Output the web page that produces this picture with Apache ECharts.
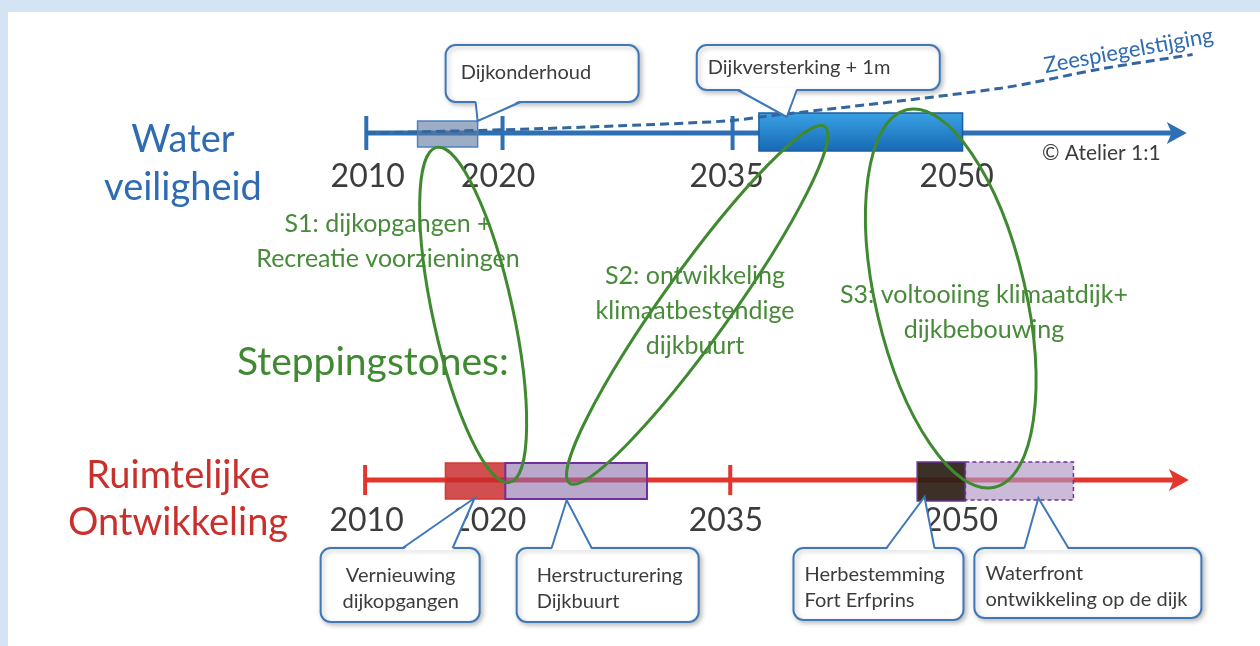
<!DOCTYPE html>
<html>
<head>
<meta charset="utf-8">
<script src="https://cdn.jsdelivr.net/npm/echarts@6/dist/echarts.min.js"></script>
<style>
  html, body { margin: 0; padding: 0; background: #d5e4f3; }
  #chart { width: 1260px; height: 646px; }
</style>
</head>
<body>
<div id="chart"></div>
<script>
const FONT = 'Lato, "Noto Sans", sans-serif';

// Water veiligheid lane
const waterSpan = [2010, 2066];
const waterTicks = [2010, 2019.3, 2035];
const waterYearLabels = ['2010', '2020', '2035', '2050'];
const waterLabelYears = [2010.1, 2019.0, 2034.6, 2050.3];
const waterBlocks = [[2013.5, 2017.6], [2036.8, 2050.7]];
const waterNotes = ['Dijkonderhoud', 'Dijkversterking + 1m'];
const waterNoteYears = [2017.6, 2038.7];

// Zeespiegelstijging (rise above the lane, m)
const seaYears = [2010, 2019.3, 2027.3, 2034.6, 2036.9, 2053.3, 2060.1, 2066.4];
const seaRise = [0, 0.04, 0.09, 0.15, 0.2, 0.56, 0.8, 0.98];

// Ruimtelijke Ontwikkeling lane
const ruimteSpan = [2010, 2066.4];
const ruimteTicks = [2010, 2035];
const ruimteYearLabels = ['2010', '2020', '2035', '2050'];
const ruimteLabelYears = [2010.1, 2018.5, 2034.7, 2050.8];
const ruimteBlocks = [[2015.5, 2019.6], [2019.6, 2029.3], [2047.8, 2051.1], [2051.1, 2058.5]];
const ruimteNotes = ['Vernieuwing\ndijkopgangen', 'Herstructurering\nDijkbuurt', 'Herbestemming\nFort Erfprins', 'Waterfront\nontwikkeling op de dijk'];
const ruimteNoteYears = [2017.5, 2023.8, 2048.3, 2056.1];

// stepping stones: ellipse from a point on the water lane to one on the ruimte lane
const stepLabels = ['S1: dijkopgangen +\nRecreatie voorzieningen', 'S2: ontwikkeling\nklimaatbestendige\ndijkbuurt', 'S3: voltooiing klimaatdijk+\ndijkbebouwing'];
const stepTop = [[2014.8, -0.18], [2041.3, 0.08], [2046.9, 0.29]];
const stepBottom = [[2019.9, -0.03], [2024.0, -0.04], [2053.1, -0.09]];

// ---- styles / layout ----
const BLUE = '#2e70b4', RED = '#e2352e', GREEN = '#3f8a30', GREY = '#3c3c3c', NOTE = '#3f78b8';
const waterBlockStyle = [
  { top: -12, bottom: 14, fill: 'rgba(90,118,158,0.6)', stroke: '#4f81bd', lineWidth: 1.5 },
  { top: -20, bottom: 18, fill: { type: 'linear', x: 0, y: 0, x2: 0, y2: 1, colorStops: [{ offset: 0, color: '#3aa2e4' }, { offset: 1, color: '#1769b4' }] }, stroke: '#1b5e9e', lineWidth: 1.5 }
];
const ruimteBlockStyle = [
  { top: -17, bottom: 19, fill: 'rgba(200,40,40,0.82)', stroke: '#d8382f', lineWidth: 1.5 },
  { top: -17, bottom: 19, fill: 'rgba(140,110,170,0.6)', stroke: '#7030a0', lineWidth: 2 },
  { top: -18, bottom: 21, fill: 'rgba(45,30,22,0.92)', stroke: '#6a3590', lineWidth: 1.5 },
  { top: -18, bottom: 20, fill: 'rgba(175,150,195,0.65)', stroke: '#7030a0', lineWidth: 1.5, lineDash: [4, 3] }
];
const waterNoteLayout = [
  { tip: [0, -12], box: [-32, 161, -88, -31], base: [-2, 43], text: [-17, -60], align: 'left' },
  { tip: [0, -16], box: [-90, 153, -88, -43], base: [-49, 10], text: [-79, -65], align: 'left' }
];
const ruimteNoteLayout = [
  { tip: [0, 18], box: [-154, 5, 68, 142], base: [-72, -22], text: [-74, 109], align: 'center' },
  { tip: [0, 20], box: [-50, 132, 68, 142], base: [-15, 25], text: [-30, 109], align: 'left' },
  { tip: [0, 17], box: [-131, 39, 68, 140], base: [-38, 10], text: [-120, 108], align: 'left' },
  { tip: [0, 18], box: [-64, 163, 68, 138], base: [-14, 30], text: [-53, 107], align: 'left' }
];
const stepHalfWidth = [40, 34, 75];
const stepLabelPos = [[388, 241], [695, 311], [984, 312]];

function arrowItem(color, width) {
  return function (params, api) {
    const a = api.coord([api.value(0), 0]);
    const b = api.coord([api.value(1), 0]);
    return {
      type: 'group', children: [
        { type: 'line', shape: { x1: a[0], y1: a[1], x2: b[0] - 14, y2: b[1] }, style: { stroke: color, lineWidth: width } },
        { type: 'polygon', shape: { points: [[b[0] - 20, b[1] - 11], [b[0], b[1]], [b[0] - 20, b[1] + 11], [b[0] - 15, b[1]]] }, style: { fill: color } }
      ]
    };
  };
}
function tickItem(color, half) {
  return function (params, api) {
    const c = api.coord([api.value(0), 0]);
    return { type: 'line', shape: { x1: c[0], y1: c[1] - half, x2: c[0], y2: c[1] + half }, style: { stroke: color, lineWidth: 4 } };
  };
}
function blockItem(styles) {
  return function (params, api) {
    const s = styles[params.dataIndex];
    const a = api.coord([api.value(0), 0]);
    const b = api.coord([api.value(1), 0]);
    return {
      type: 'rect',
      shape: { x: a[0], y: a[1] + s.top, width: b[0] - a[0], height: s.bottom - s.top },
      style: { fill: s.fill, stroke: s.stroke, lineWidth: s.lineWidth, lineDash: s.lineDash || null }
    };
  };
}
function yearItem(labels, dy) {
  return function (params, api) {
    const c = api.coord([api.value(0), 0]);
    return { type: 'text', x: c[0], y: c[1] + dy, style: { text: labels[params.dataIndex], font: '32px ' + FONT, fill: GREY, align: 'center', verticalAlign: 'middle' } };
  };
}

function laneSeries(idx, span, ticks, blocks, blockStyle, labelYears, labels, color, tickHalf, labelDy) {
  return [
    { type: 'custom', xAxisIndex: idx, yAxisIndex: idx, silent: true, z: 2, data: [span], renderItem: arrowItem(color, 5) },
    { type: 'custom', xAxisIndex: idx, yAxisIndex: idx, silent: true, z: 2, data: ticks.map(t => [t, 0]), renderItem: tickItem(color, tickHalf) },
    { type: 'custom', xAxisIndex: idx, yAxisIndex: idx, silent: true, z: 3, data: blocks, renderItem: blockItem(blockStyle) },
    { type: 'custom', xAxisIndex: idx, yAxisIndex: idx, silent: true, z: 3, data: labelYears.map(t => [t, 0]), renderItem: yearItem(labels, labelDy) }
  ];
}

const chart = echarts.init(document.getElementById('chart'));
chart.setOption({
  backgroundColor: '#d5e4f3',
  animation: false,
  grid: [
    { left: 0, right: 0, top: 53, height: 160 },
    { left: -4, right: 4, top: 400, height: 160 }
  ],
  xAxis: [
    { gridIndex: 0, type: 'value', min: 1985, max: 2071, show: false },
    { gridIndex: 1, type: 'value', min: 1985, max: 2071, show: false }
  ],
  yAxis: [
    { gridIndex: 0, type: 'value', min: -1, max: 1, show: false },
    { gridIndex: 1, type: 'value', min: -1, max: 1, show: false }
  ],
  series: [
    ...laneSeries(0, waterSpan, waterTicks, waterBlocks, waterBlockStyle, waterLabelYears, waterYearLabels, BLUE, 17, 44),
    ...laneSeries(1, ruimteSpan, ruimteTicks, ruimteBlocks, ruimteBlockStyle, ruimteLabelYears, ruimteYearLabels, RED, 15, 41),
    {
      type: 'line', xAxisIndex: 0, yAxisIndex: 0, silent: true, z: 5,
      data: seaYears.map((y, i) => [y, seaRise[i]]),
      smooth: 0.3, symbol: 'none',
      lineStyle: { color: '#33669f', width: 3, type: [9, 5] }
    }
  ]
});

function callout(p, L, text) {
  const x0 = p[0] + L.box[0], x1 = p[0] + L.box[1], y0 = p[1] + L.box[2], y1 = p[1] + L.box[3];
  const tip = [p[0] + L.tip[0], p[1] + L.tip[1]];
  const edge = tip[1] < y0 ? y0 : y1;
  const inward = tip[1] < y0 ? 2 : -2;
  const b0 = [p[0] + L.base[0], edge], b1 = [p[0] + L.base[1], edge];
  return [
    { type: 'rect', z: 20, shape: { x: x0, y: y0, width: x1 - x0, height: y1 - y0, r: 10 },
      style: { fill: '#fff', stroke: NOTE, lineWidth: 2, shadowBlur: 5, shadowOffsetX: 2, shadowOffsetY: 2, shadowColor: 'rgba(0,0,0,0.25)' } },
    { type: 'polygon', z: 21, shape: { points: [[b0[0], edge + inward], tip, [b1[0], edge + inward]] }, style: { fill: '#fff' } },
    { type: 'polyline', z: 22, shape: { points: [b0, tip, b1] }, style: { stroke: NOTE, lineWidth: 2, fill: null } },
    { type: 'text', z: 23, x: p[0] + L.text[0], y: p[1] + L.text[1],
      style: { text: text, font: '20px ' + FONT, fill: GREY, align: L.align, verticalAlign: 'middle', lineHeight: 26 } }
  ];
}

const els = [
  { type: 'rect', z: -1, shape: { x: 8, y: 12, width: 1252, height: 634 }, style: { fill: '#fff' } },
  { type: 'text', x: 183, y: 164, z: 10, style: { text: 'Water\nveiligheid', font: '38px ' + FONT, fill: '#2e6bb3', align: 'center', verticalAlign: 'middle', lineHeight: 48 } },
  { type: 'text', x: 178, y: 499, z: 10, style: { text: 'Ruimtelijke\nOntwikkeling', font: '38px ' + FONT, fill: '#c9302c', align: 'center', verticalAlign: 'middle', lineHeight: 47 } },
  { type: 'text', x: 237, y: 362, z: 10, style: { text: 'Steppingstones:', font: '39px ' + FONT, fill: GREEN, align: 'left', verticalAlign: 'middle' } },
  { type: 'text', x: 1042, y: 153, z: 10, style: { text: '© Atelier 1:1', font: '21px ' + FONT, fill: GREY, align: 'left', verticalAlign: 'middle' } }
];

// sea level label next to the end of the curve
const seaEnd = chart.convertToPixel({ gridIndex: 0 }, [seaYears[seaYears.length - 1], seaRise[seaRise.length - 1]]);
els.push({ type: 'text', x: seaEnd[0] - 64, y: seaEnd[1] - 4, rotation: 0.18, z: 10,
  style: { text: 'Zeespiegelstijging', font: '22px ' + FONT, fill: '#2e6bb3', align: 'center', verticalAlign: 'middle' } });

waterNotes.forEach((t, i) => {
  els.push(...callout(chart.convertToPixel({ gridIndex: 0 }, [waterNoteYears[i], 0]), waterNoteLayout[i], t));
});
ruimteNotes.forEach((t, i) => {
  els.push(...callout(chart.convertToPixel({ gridIndex: 1 }, [ruimteNoteYears[i], 0]), ruimteNoteLayout[i], t));
});

stepLabels.forEach((t, i) => {
  els.push({ type: 'text', x: stepLabelPos[i][0], y: stepLabelPos[i][1], z: 15,
    style: { text: t, font: '25px ' + FONT, fill: '#478a39', align: 'center', verticalAlign: 'middle', lineHeight: 35 } });
  const a = chart.convertToPixel({ gridIndex: 0 }, stepTop[i]);
  const b = chart.convertToPixel({ gridIndex: 1 }, stepBottom[i]);
  const dx = b[0] - a[0], dy = b[1] - a[1];
  els.push({ type: 'ellipse', z: 30, x: (a[0] + b[0]) / 2, y: (a[1] + b[1]) / 2, rotation: Math.atan2(dx, dy),
    shape: { cx: 0, cy: 0, rx: stepHalfWidth[i], ry: Math.hypot(dx, dy) / 2 },
    style: { fill: null, stroke: GREEN, lineWidth: 3 } });
});

chart.setOption({ graphic: els });
</script>
</body>
</html>
